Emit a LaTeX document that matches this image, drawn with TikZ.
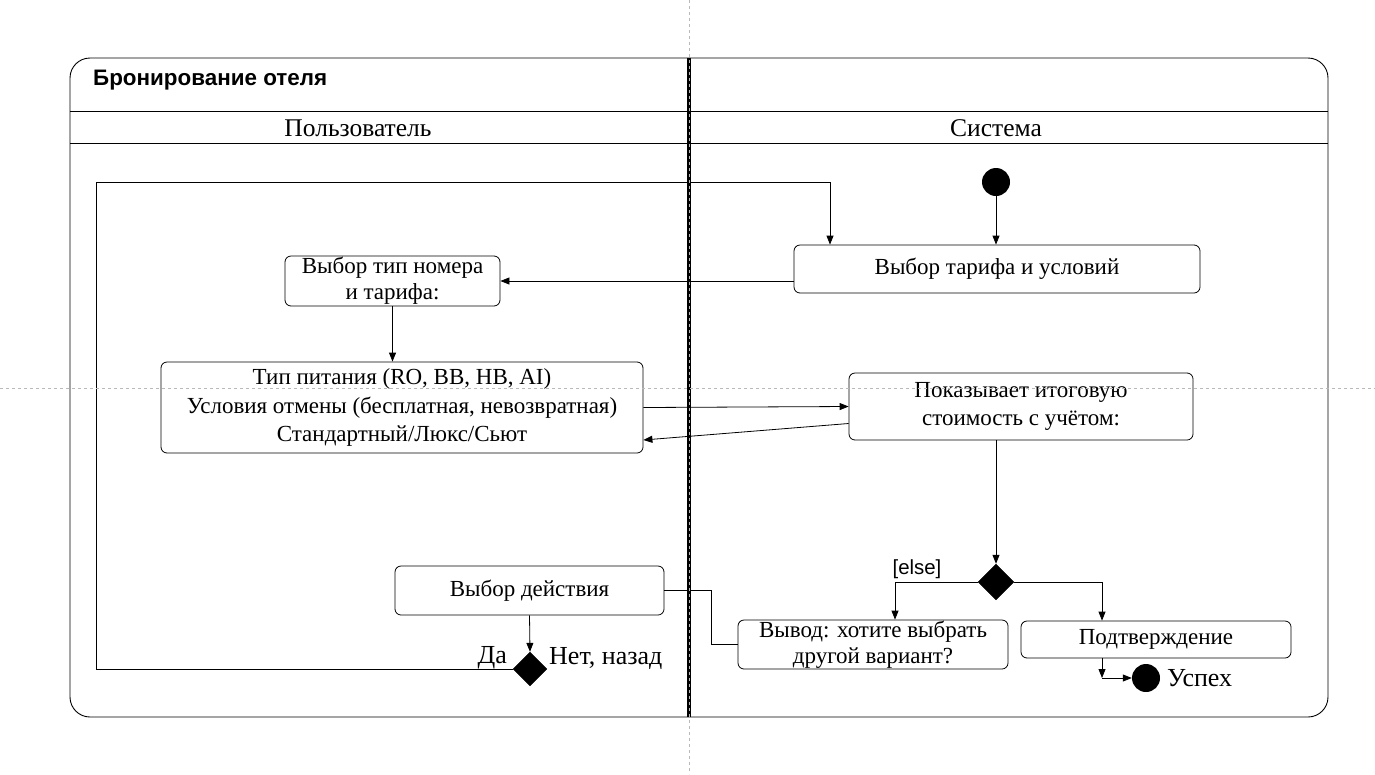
\documentclass[tikz,border=0pt]{standalone}
\usepackage{fontspec}
\setmainfont{Liberation Serif}
\newfontfamily\sansf{Liberation Sans}
\usetikzlibrary{arrows.meta,calc,shapes.geometric}
\begin{document}
\begin{tikzpicture}[x=1pt,y=-1pt,
  act/.style={draw,rounded corners=6pt,align=center,inner sep=0pt,font=\fontsize{23}{28}\selectfont,line width=0.8pt},
  dec/.style={diamond,fill=black,draw=black,inner sep=0pt,minimum size=36pt},
  flow/.style={-{Triangle[length=9pt,width=7pt]},line width=0.8pt},
  plain/.style={line width=0.8pt},
  dot/.style={circle,fill=black,inner sep=0pt,minimum size=28pt},
  lbl/.style={font=\fontsize{26}{30}\selectfont,inner sep=0pt},
  guide/.style={gray!55,dash pattern=on 3pt off 3pt,line width=0.6pt}]
\useasboundingbox (0,0) rectangle (1375,774);
\fill[white] (0,0) rectangle (1375,774);
% frame
\draw[line width=0.9pt,rounded corners=20pt] (70,58) rectangle (1328,717);
\draw[line width=0.9pt] (70,111) -- (1328,111);
\draw[line width=0.9pt] (70,143) -- (1328,143);
\draw[line width=4pt] (689,58) -- (689,717);
\node[anchor=west,inner sep=0pt,font=\sansf\bfseries\fontsize{22.4}{26}\selectfont] (title) at (93,80) {Бронирование отеля};
\node[lbl,font=\fontsize{25.5}{30}\selectfont] (laneU) at (358,128) {Пользователь};
\node[lbl,font=\fontsize{25.5}{30}\selectfont] (laneS) at (996,128) {Система};
% nodes
\node[dot] (start) at (996,182) {};
\node[act,minimum width=406pt,minimum height=48pt] (tariff) at (997,269) {Выбор тарифа и условий};
\node[act,minimum width=215pt,minimum height=50pt,font=\fontsize{23}{26}\selectfont] (room) at (392.5,281) {Выбор тип номера\\и тарифа:};
\node[act,minimum width=482pt,minimum height=91pt,font=\fontsize{23}{28.5}\selectfont] (opts) at (402,407.5) {Тип питания (RO, BB, HB, AI)\\Условия отмены (бесплатная, невозвратная)\\Стандартный/Люкс/Сьют};
\node[act,minimum width=344pt,minimum height=67pt] (show) at (1021,406.5) {Показывает итоговую\\стоимость с учётом:};
\node[dec] (dB) at (996,582) {};
\node[anchor=south,inner sep=0pt,font=\sansf\fontsize{20.4}{24}\selectfont] (else) at (917,579) {[else]};
\node[act,minimum width=270pt,minimum height=49pt,font=\fontsize{23}{26}\selectfont] (out) at (873,644.5) {Вывод: хотите выбрать\\другой вариант?};
\node[act,minimum width=270pt,minimum height=37pt] (conf) at (1156,639.5) {Подтверждение};
\node[dot] (end) at (1146,678) {};
\node[lbl,anchor=west] (succ) at (1167,678) {Успех};
\node[act,minimum width=269pt,minimum height=49pt] (act) at (529.5,590.5) {Выбор действия};
\node[dec,minimum size=34pt] (dA) at (530,669) {};
\node[lbl,anchor=east] (yes) at (507,658) {Да};
\node[lbl,anchor=west] (no) at (549,658) {Нет, назад};
\coordinate (ec) at (1102,678);
% connectors
\draw[flow] (start) -- (start |- tariff.north);
\draw[flow] (tariff.west |- room.east) -- (room.east);
\draw[flow] (room.south) -- (room.south |- opts.north);
\draw[flow] (opts.east) -- (show.west);
\draw[flow] ([yshift=-17pt]show.west) -- ([yshift=-32.5pt]opts.east);
\draw[flow] (show.south -| dB) -- (dB.north);
\draw[flow] (dB.west) -| ([xshift=22pt]out.north);
\draw[flow] (dB.east) -| ([xshift=-54pt]conf.north);
\draw[flow] (conf.south -| ec) -- (ec);
\draw[flow] (ec) -- (end.west);
\draw[plain] (act.east) -- ++(47,0) |- (out.west);
\draw[flow] (act.south) -- (dA.north);
\draw[flow] (dA.west) -| (96,182) -| ([xshift=-167pt]tariff.north);
% guides
\draw[guide] (689,0) -- (689,774);
\draw[guide] (0,388) -- (1375,388);
\end{tikzpicture}
\end{document}
